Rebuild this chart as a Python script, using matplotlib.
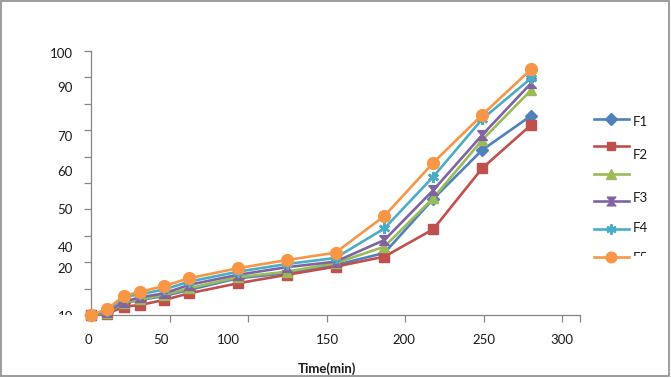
import matplotlib
matplotlib.use("Agg")
import matplotlib.pyplot as plt
from matplotlib.lines import Line2D
from matplotlib.patches import Rectangle
from matplotlib.transforms import Bbox
import numpy as np

plt.rcParams['font.family'] = ['Lato', 'DejaVu Sans']

time = [0, 10, 20, 30, 45, 60, 90, 120, 150, 180, 210, 240, 270]
f1 = [0, 1.0, 4.4, 5.7, 7.2, 9.5, 13.9, 15.8, 18.9, 23.5, 44.0, 62.5, 75.5]
f2 = [0, 0.5, 3.1, 3.8, 5.7, 8.2, 12.0, 15.2, 18.3, 22.1, 32.5, 55.6, 72.0]
f_green = [0, 0.8, 4.7, 5.9, 7.6, 10.1, 14.3, 16.4, 19.6, 25.9, 44.3, 66.3, 85.2]
f3 = [0, 1.2, 5.0, 6.7, 8.2, 11.4, 15.2, 18.1, 20.2, 28.4, 47.3, 68.2, 87.8]
f4 = [0, 1.5, 6.9, 7.8, 9.7, 12.6, 16.4, 19.3, 21.6, 32.8, 52.4, 74.2, 89.7]
f5 = [0, 2.2, 7.2, 8.8, 11.0, 13.9, 17.7, 20.8, 23.6, 37.5, 57.7, 75.8, 93.1]

legend_labels = ['F1', 'F2', '', 'F3', 'F4', 'F5']

# tick labels as printed (misplaced in the original)
ytick_labels = ['100', '90', '70', '60', '50', '40', '20', '10']
ytick_label_pos = [99, 85.9, 67.5, 54.3, 39.8, 25.3, 17.3, -0.8]
xtick_labels = ['0', '50', '100', '150', '200', '250', '300']
xtick_label_pos = [-1.8, 43, 84, 145, 192.2, 241, 289]
xtick_marks = [0, 48.2, 96.4, 144.6, 192.8, 241, 289.2, 300]

W, H = 671, 378
FS = 9.5
TC = '#1a1a1a'
fig = plt.figure(figsize=(W / 100, H / 100), dpi=100)
ax = fig.add_axes([91 / W, (H - 315) / H, 489 / W, 264 / H])

hourglass = [(-1, 1), (1, 1), (0.12, 0), (1, -1), (-1, -1), (-0.12, 0), (-1, 1)]
series = [
    (f1, '#4F81BD', 'D', 6.5, 1),
    (f2, '#C0504D', 's', 7, 1),
    (f_green, '#9BBB59', '^', 7.5, 1),
    (f3, '#8064A2', hourglass, 7, 1),
    (f4, '#4BACC6', (6, 2, 0), 8, 1.8),
    (f5, '#F79646', 'o', 8.5, 1),
]
for vals, c, m, ms, mew in series:
    ax.plot(time, vals, color=c, lw=1.9, marker=m, ms=ms, mfc=c, mec=c,
            mew=mew, clip_on=False, zorder=3)

ax.set_xlim(0, 300)
ax.set_ylim(0, 100)
for s in ['top', 'right']:
    ax.spines[s].set_visible(False)
for s in ['left', 'bottom']:
    ax.spines[s].set_color('#868686')
    ax.spines[s].set_linewidth(0.9)
ax.set_yticks(np.arange(0, 101, 10))
ax.set_yticklabels([])
ax.set_xticks(xtick_marks)
ax.set_xticklabels([])
ax.tick_params(axis='both', direction='out', length=5, width=0.9, color='#868686')

ytr = ax.get_yaxis_transform()
clipbox = Bbox.from_extents(0, H - 315, W, H)
for lab, pos in zip(ytick_labels, ytick_label_pos):
    t = ax.text(-18 / 489, pos, lab, transform=ytr, ha='right', va='center',
                fontsize=FS, color=TC)
    if pos < 1:
        t.set_clip_on(True)
        t.set_clip_box(clipbox)

xtr = ax.get_xaxis_transform()
for lab, pos in zip(xtick_labels, xtick_label_pos):
    ax.text(pos, -25 / 264, lab, transform=xtr, ha='center', va='center',
            fontsize=FS, color=TC)

ax.text(144.5, -54 / 264, 'Time(min)', transform=xtr, ha='center', va='center',
        fontsize=FS, fontweight='bold', color=TC)

# legend drawn by hand
leg_y = [119, 146, 173.7, 201.3, 229, 256.7]
txt_y = [121.7, 155, None, 198.3, 227.7, 258.5]
for (vals, c, m, ms, mew), ly, ty, lab in zip(series, leg_y, txt_y, legend_labels):
    fy = (H - ly) / H
    fig.add_artist(Line2D([594 / W, 629 / W], [fy, fy], color=c, lw=1.9,
                          transform=fig.transFigure))
    fig.add_artist(Line2D([611 / W], [fy], color=c, marker=m, ms=ms * 0.9, mfc=c,
                          mec=c, mew=mew, transform=fig.transFigure))
    if ty is not None and lab:
        t = fig.text(633 / W, (H - ty) / H, lab, ha='left', va='center',
                     fontsize=FS, color=TC)
        if lab == 'F5':
            t.set_clip_on(True)
            t.set_clip_box(Bbox.from_extents(0, H - 256, W, H))

fig.add_artist(Rectangle((0.5 / W, 2 / H), 668.5 / W, 375.5 / H, fill=False,
                         edgecolor='#8c8c8c', lw=1.2, transform=fig.transFigure))

fig.savefig('out.png', dpi=100)
